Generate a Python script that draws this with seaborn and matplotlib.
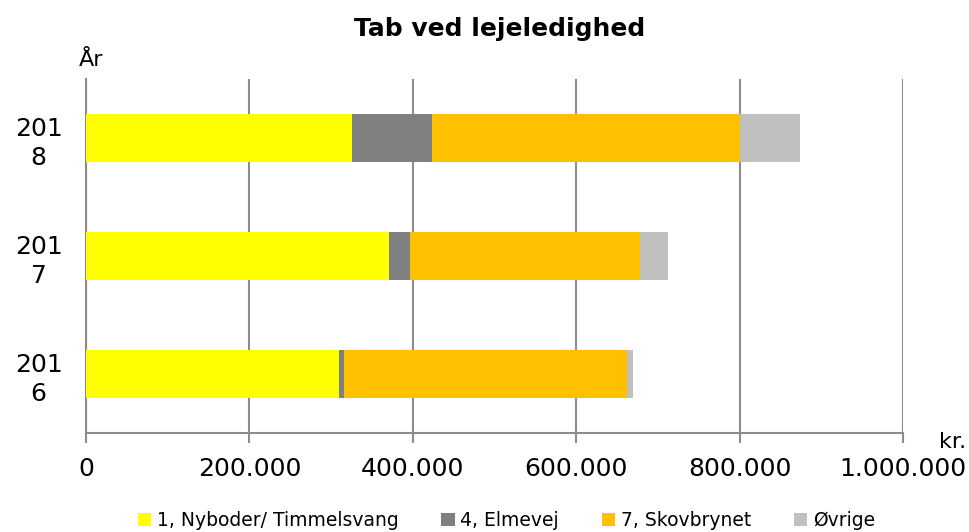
import numpy as np
import pandas as pd
import matplotlib
matplotlib.use('Agg')
import matplotlib.pyplot as plt
from matplotlib.patches import Patch
import seaborn as sns

# data (kr.)
years = ['2018', '2017', '2016']
year_labels = ['201\n8', '201\n7', '201\n6']
series = ['1, Nyboder/ Timmelsvang', '4, Elmevej', '7, Skovbrynet', 'Øvrige']
nyboder = [326000, 371000, 309000]
elmevej = [97000, 25000, 7000]
skovbrynet = [378000, 282000, 346000]
ovrige = [73000, 34000, 7000]
colors = ['#FFFF00', '#808080', '#FFC000', '#C0C0C0']

sns.set_style('white')
plt.rcParams['font.family'] = ['DejaVu Sans']
plt.rcParams['text.color'] = 'black'
plt.rcParams['xtick.color'] = 'black'
plt.rcParams['ytick.color'] = 'black'

fig = plt.figure(figsize=(9.7, 5.32), dpi=100)
ax = fig.add_axes([0.0887, 0.186, 0.8423, 0.6655])

# cumulative stacks, draw largest first so smaller ones sit on top
values = np.array([nyboder, elmevej, skovbrynet, ovrige])
cum = values.cumsum(axis=0)
for i in range(len(series) - 1, -1, -1):
    df = pd.DataFrame({'year': years, 'value': cum[i]})
    sns.barplot(data=df, x='value', y='year', orient='h', color=colors[i],
                width=0.4, saturation=1, linewidth=0, ax=ax, zorder=3)

ax.set_xlim(0, 1000000)
ax.set_ylim(2.5, -0.5)
ax.set_xticks(np.arange(0, 1000001, 200000))
ax.set_xticklabels(['0', '200.000', '400.000', '600.000', '800.000', '1.000.000'],
                   fontsize=18)
ax.set_yticks(range(3))
ax.set_yticklabels(year_labels, fontsize=18, linespacing=1.3, multialignment='center')
ax.set_xlabel('')
ax.set_ylabel('')

ax.grid(axis='x', color='#8c8c8c', linewidth=1.5, zorder=1)
ax.grid(axis='y', visible=False)
for side in ['top', 'right']:
    ax.spines[side].set_visible(False)
for side in ['left', 'bottom']:
    ax.spines[side].set_color('#8c8c8c')
    ax.spines[side].set_linewidth(1.5)
ax.tick_params(axis='x', bottom=True, direction='out', length=7, width=1.5,
               color='#8c8c8c', labelcolor='black', pad=10)
ax.tick_params(axis='y', left=False, length=0, pad=17, labelcolor='black')

fig.text(0.515, 0.945, 'Tab ved lejeledighed', ha='center', va='center',
         fontsize=18, fontweight='bold', color='black')
fig.text(0.094, 0.888, 'År', ha='center', va='center', fontsize=16, color='black')
fig.text(0.996, 0.170, 'kr.', ha='right', va='center', fontsize=16, color='black')

handles = [Patch(facecolor=c, edgecolor='none', label=s) for c, s in zip(colors, series)]
fig.legend(handles=handles, loc='center', bbox_to_anchor=(0.522, 0.022), ncol=4,
           frameon=False, fontsize=13.5, handlelength=0.7, handleheight=0.7,
           handletextpad=0.3, columnspacing=2.3)

fig.savefig('out.png', dpi=100)
